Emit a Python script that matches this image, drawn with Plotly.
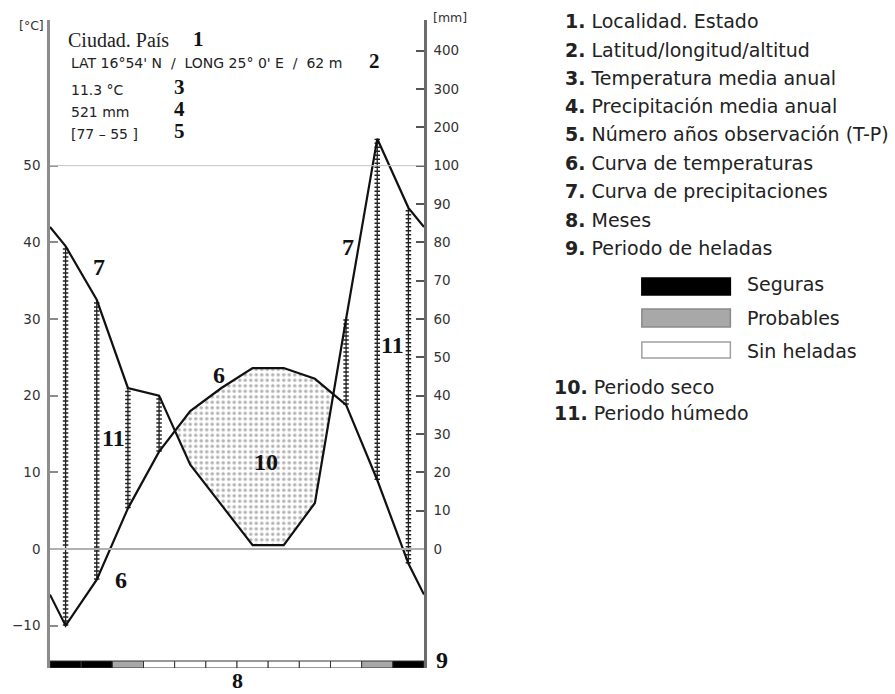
import plotly.graph_objects as go

# ---- data ---------------------------------------------------------------
months = ["Ene", "Feb", "Mar", "Abr", "May", "Jun", "Jul", "Ago", "Sep", "Oct", "Nov", "Dic"]
temp_c = [-10.0, -4.0, 5.3, 12.7, 18.0, 21.0, 23.6, 23.6, 22.2, 18.8, 9.0, -1.9]
precip_mm = [79, 65, 42, 40, 22, 11.5, 1, 1, 12, 60, 170, 89]
# frost class per month: S = seguras, P = probables, N = sin heladas
frost = ["S", "S", "P", "N", "N", "N", "N", "N", "N", "N", "P", "S"]

temp_ticks = [-10, 0, 10, 20, 30, 40, 50]
precip_ticks = [0, 10, 20, 30, 40, 50, 60, 70, 80, 90, 100, 200, 300, 400]

station = "Ciudad. País"
coords = "LAT 16°54' N\u00a0\u00a0/\u00a0\u00a0LONG 25° 0' E\u00a0\u00a0/\u00a0\u00a062 m"
mean_temp = "11.3 °C"
annual_precip = "521 mm"
years_obs = "[77 – 55 ]"

legend_items = [
    "Localidad. Estado",
    "Latitud/longitud/altitud",
    "Temperatura media anual",
    "Precipitación media anual",
    "Número años observación (T-P)",
    "Curva de temperaturas",
    "Curva de precipitaciones",
    "Meses",
    "Periodo de heladas",
]
frost_names = ["Seguras", "Probables", "Sin heladas"]
extra_items = ["Periodo seco", "Periodo húmedo"]

# ---- geometry -------------------------------------------------------------
W, H = 895, 694
PL, PR, PT, PB = 48, 424, 20, 668          # plot area in pixels
PX_PER_C = 7.667
Y_LO = -(PB - 549) / PX_PER_C
Y_HI = (549 - PT) / PX_PER_C


def X(px):
    return (px - PL) / (PR - PL)


def Y(py):
    return (PB - py) / (PB - PT)


def mm_display(v):
    """Walter-Lieth precipitation scale: compressed 1:10 above 100 mm."""
    return v if v <= 100 else 100 + (v - 100) / 10.0


SANS = "DejaVu Sans"
SERIF = "Liberation Serif"

# month centres, curves wrapped to the frame edges
xm = [i + 0.5 for i in range(12)]
t_edge = (temp_c[-1] + temp_c[0]) / 2
p_edge = (precip_mm[-1] + precip_mm[0]) / 2
xe = [0.0] + xm + [12.0]
te = [t_edge] + temp_c + [t_edge]
pe = [p_edge] + precip_mm + [p_edge]
pe_disp = [mm_display(v) for v in pe]
pe_c = [v / 2 for v in pe_disp]          # precipitation expressed on the °C axis


def dry_polygons(x, t, p):
    polys, top, bot = [], None, None
    for i in range(len(x)):
        d = t[i] - p[i]
        if i > 0:
            dp = t[i - 1] - p[i - 1]
            if (dp > 0) != (d > 0):
                f = dp / (dp - d)
                xc = x[i - 1] + f * (x[i] - x[i - 1])
                yc = t[i - 1] + f * (t[i] - t[i - 1])
                if top is None:
                    top, bot = [(xc, yc)], [(xc, yc)]
                else:
                    top.append((xc, yc))
                    bot.append((xc, yc))
                    polys.append(top + bot[::-1])
                    top = bot = None
        if d > 0:
            if top is None:
                top, bot = [], []
            top.append((x[i], t[i]))
            bot.append((x[i], p[i]))
    if top:
        polys.append(top + bot[::-1])
    return polys


fig = go.Figure()

# dry period: dotted fill between temperature (above) and precipitation
for poly in dry_polygons(xe, te, pe_c):
    px_ = [p[0] for p in poly] + [poly[0][0]]
    py_ = [p[1] for p in poly] + [poly[0][1]]
    fig.add_trace(go.Scatter(
        x=px_, y=py_, mode="lines", line=dict(width=0), fill="toself", fillcolor="white",
        fillpattern=dict(shape="+", size=5.5, solidity=0.12, fgcolor="#d0d0d0", bgcolor="white"),
        hoverinfo="skip", showlegend=False))
    fig.add_trace(go.Scatter(
        x=px_, y=py_, mode="lines", line=dict(width=0), fill="toself",
        fillcolor="rgba(0,0,0,0)",
        fillpattern=dict(shape=".", size=5.5, solidity=0.3, fgcolor="#6a6a6a",
                         bgcolor="rgba(0,0,0,0)"),
        hoverinfo="skip", showlegend=False))

# humid period: ladder-style vertical lines at each month centre
lx, ly = [], []
for i in range(12):
    top_c = mm_display(precip_mm[i]) / 2
    if top_c > temp_c[i]:
        lx += [xm[i], xm[i], None]
        ly += [temp_c[i], top_c, None]
fig.add_trace(go.Scatter(x=lx, y=ly, mode="lines", line=dict(color="#222", width=1.3),
                         hoverinfo="skip", showlegend=False))
fig.add_trace(go.Scatter(x=lx, y=ly, mode="lines",
                         line=dict(color="#222", width=5.5, dash="1.5px,2.5px"),
                         hoverinfo="skip", showlegend=False))

# temperature curve
fig.add_trace(go.Scatter(x=xe, y=te, mode="lines", line=dict(color="#111", width=2.2),
                         showlegend=False, hoverinfo="skip"))
# precipitation curve on the right-hand (mm) axis
fig.add_trace(go.Scatter(x=xe, y=pe_disp, yaxis="y2", mode="lines",
                         line=dict(color="#111", width=2.2),
                         showlegend=False, hoverinfo="skip"))

shapes = [
    dict(type="line", xref="x", yref="y", x0=0, x1=12, y0=50, y1=50,
         line=dict(color="#c4c4c4", width=1)),
    dict(type="line", xref="x", yref="y", x0=0, x1=12, y0=0, y1=0,
         line=dict(color="#b0b0b0", width=2)),
]
frost_fill = {"S": "#000000", "P": "#a8a8a8", "N": "#ffffff"}
bar_lo, bar_hi = Y_LO, -(661 - 549) / PX_PER_C
for i, f in enumerate(frost):
    shapes.append(dict(type="rect", xref="x", yref="y", x0=i, x1=i + 1,
                       y0=bar_lo, y1=bar_hi, fillcolor=frost_fill[f],
                       line=dict(color="#333", width=1), layer="above"))

# frost legend swatches
for k, f in enumerate(["S", "P", "N"]):
    y0, y1 = [(278, 295), (309, 327), (342, 358)][k]
    shapes.append(dict(type="rect", xref="paper", yref="paper",
                       x0=X(643), x1=X(732), y0=Y(y1), y1=Y(y0),
                       fillcolor=frost_fill[f],
                       line=dict(color=["#000", "#8a8a8a", "#a0a0a0"][k], width=1.5)))

ann = []


def text(px, py, s, size, family=SANS, color="#222", xanchor="left", bold=False):
    ann.append(dict(xref="paper", yref="paper", x=X(px), y=Y(py),
                    text=f"<b>{s}</b>" if bold else s, showarrow=False,
                    xanchor=xanchor, yanchor="middle",
                    font=dict(family=family, size=size, color=color)))


# axis unit labels
text(29, 25, "[°C]", 12.5, xanchor="center", color="#333")
text(431, 18, "[mm]", 12.5, color="#333")

# station header
text(64, 40, station, 20, family=SERIF, color="#222")
text(197, 39, "1", 21, family=SERIF, color="#111", xanchor="center", bold=True)
text(67, 63, coords, 14, color="#222")
text(374, 61, "2", 21, family=SERIF, color="#111", xanchor="center", bold=True)
text(67, 90, mean_temp, 14)
text(178, 87, "3", 21, family=SERIF, color="#111", xanchor="center", bold=True)
text(67, 112, annual_precip, 14)
text(178, 109, "4", 21, family=SERIF, color="#111", xanchor="center", bold=True)
text(67, 134, years_obs, 14)
text(178, 131, "5", 21, family=SERIF, color="#111", xanchor="center", bold=True)

# callout numerals inside the diagram
for (px, py, s) in [(97, 267, "7"), (348, 247, "7"), (392, 345, "11"), (112, 438, "11"),
                    (218, 375, "6"), (119, 580, "6"), (265, 462, "10")]:
    text(px, py, s, 24, family=SERIF, color="#111", xanchor="center", bold=True)
text(237, 680, "8", 22, family=SERIF, color="#111", xanchor="center", bold=True)
text(442, 660, "9", 24, family=SERIF, color="#111", xanchor="center", bold=True)

# explanatory list
row_y = [21, 49.5, 78, 106, 134.5, 163, 191, 219.5, 248]
for k, (s, py) in enumerate(zip(legend_items, row_y)):
    text(564, py, f"<b>{k + 1}.</b> {s}", 19, color="#222")
for s, py in zip(frost_names, [284, 318, 351]):
    text(747, py, s, 19, color="#222")
for k, (s, py) in enumerate(zip(extra_items, [387, 413])):
    text(553, py, f"<b>{k + 10}.</b> {s}", 19, color="#222")

axis_common = dict(showgrid=False, zeroline=False, showline=True, ticks="inside",
                   ticklen=8, tickwidth=1.5, linewidth=2.5,
                   tickfont=dict(family=SANS, size=13.5, color="#333"))

fig.update_layout(
    width=W, height=H, margin=dict(l=PL, r=W - PR, t=PT, b=H - PB),
    paper_bgcolor="white", plot_bgcolor="white", showlegend=False,
    xaxis=dict(range=[0, 12], showgrid=False, zeroline=False, showline=False,
               showticklabels=False, ticks=""),
    yaxis=dict(range=[Y_LO, Y_HI], tickvals=temp_ticks, linecolor="#8c8c8c",
               tickcolor="#8c8c8c", ticklabelstandoff=4, **axis_common),
    yaxis2=dict(range=[2 * Y_LO, 2 * Y_HI], overlaying="y", side="right",
                tickvals=[mm_display(v) for v in precip_ticks],
                ticktext=[str(v) for v in precip_ticks],
                linecolor="#6c6c6c", tickcolor="#555", ticklabelstandoff=4, **axis_common),
    shapes=shapes, annotations=ann,
)

fig.write_html("out.html")
